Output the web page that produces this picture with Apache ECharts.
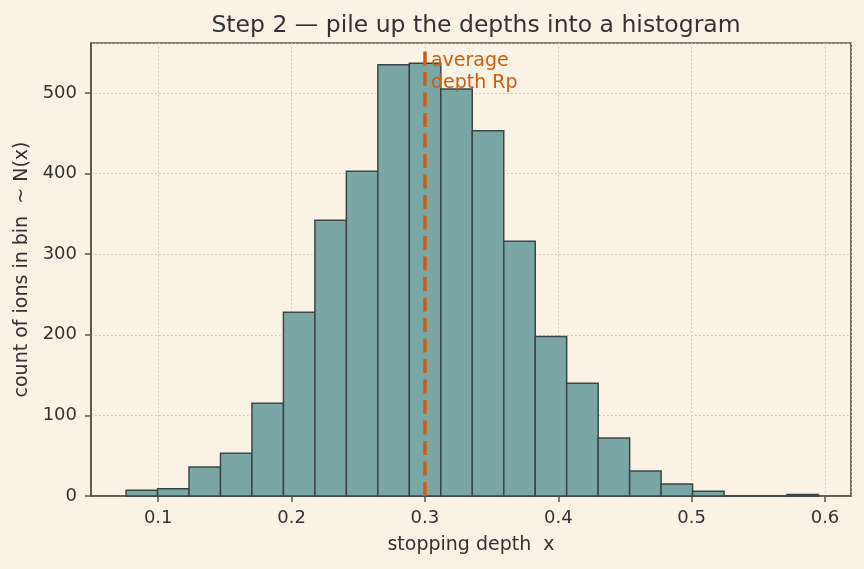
<!DOCTYPE html>
<html>
<head>
<meta charset="utf-8">
<script src="https://cdn.jsdelivr.net/npm/echarts@6/dist/echarts.min.js"></script>
<style>
	html, body { margin: 0; padding: 0; background: #faf2e4; }
	#mychart { width: 864px; height: 569px; }
</style>
</head>
<body>
<div id="mychart"></div>
<script>
// bin edges of the histogram (stopping depth x)
var binEdges = [0.0759, 0.0995, 0.1231, 0.1467, 0.1703, 0.1939, 0.2175, 0.2411, 0.2647, 0.2883, 0.3119, 0.3355,
	0.3591, 0.3827, 0.4063, 0.4299, 0.4535, 0.4771, 0.5007, 0.5243, 0.5479, 0.5715, 0.5951];
// count of ions in each bin
var binCounts = [7, 9, 36, 53, 115, 228, 342, 403, 535, 537, 505, 453, 316, 198, 140, 72, 31, 15, 6, 0, 0, 2];
var avgDepth = 0.3;
var avgLineTop = 555;

var bars = [];
for(var i = 0; i < binCounts.length; i++) {
	bars.push([binEdges[i], binEdges[i + 1], binCounts[i]]);
}

var font = 'DejaVu Sans';
var txt = '#333333';
var spine = '#5e5446';
var orange = '#cc5e10';
var gridLine = { show: true, lineStyle: { color: '#c9c1b2', type: [1.5, 2.5], width: 1 } };

var myChart = echarts.init(document.getElementById('mychart'));
var option = {
	backgroundColor: '#faf2e4',
	animation: false,
	textStyle: { fontFamily: font },
	title: {
		text: 'Step 2 \u2014 pile up the depths into a histogram',
		left: 471,
		textAlign: 'center',
		top: 9,
		textStyle: { fontSize: 23.5, fontWeight: 'normal', color: txt, fontFamily: font }
	},
	grid: {
		left: 91,
		right: 13,
		top: 43,
		bottom: 73,
		show: true,
		borderColor: spine,
		borderWidth: 1.7
	},
	xAxis: {
		type: 'value',
		min: 0.0496,
		max: 0.6195,
		minInterval: 0.1,
		maxInterval: 0.1,
		name: 'stopping depth  x',
		nameLocation: 'middle',
		nameGap: 40,
		nameTextStyle: { fontSize: 19, color: txt, fontFamily: font },
		axisLine: { show: true, lineStyle: { color: spine, width: 1.7 } },
		axisTick: { show: true, length: 6, lineStyle: { color: spine, width: 1.5 } },
		axisLabel: { fontSize: 18, color: txt, fontFamily: font, margin: 13, showMinLabel: false, showMaxLabel: false,
			formatter: function(v) { return (Math.round(v * 10) / 10).toString(); } },
		splitLine: gridLine
	},
	yAxis: {
		type: 'value',
		min: 0,
		max: 562,
		interval: 100,
		name: 'count of ions in bin  ~ N(x)',
		nameLocation: 'middle',
		nameGap: 59,
		nameTextStyle: { fontSize: 19, color: txt, fontFamily: font },
		axisLine: { show: true, lineStyle: { color: spine, width: 1.7 } },
		axisTick: { show: true, length: 6, lineStyle: { color: spine, width: 1.5 } },
		axisLabel: { fontSize: 18, color: txt, fontFamily: font, margin: 14, showMaxLabel: false },
		splitLine: gridLine
	},
	series: [{
		type: 'custom',
		data: bars,
		encode: { x: [0, 1], y: 2 },
		renderItem: function(params, api) {
			var p0 = api.coord([api.value(0), api.value(2)]);
			var p1 = api.coord([api.value(1), 0]);
			return {
				type: 'rect',
				shape: { x: p0[0], y: p0[1], width: p1[0] - p0[0], height: p1[1] - p0[1] },
				style: { fill: '#7ba6a6', stroke: '#3a4646', lineWidth: 1.5 }
			};
		},
		markLine: {
			silent: true,
			symbol: 'none',
			label: { show: false },
			lineStyle: { color: orange, width: 3.5, type: [14, 6.5] },
			data: [[{ coord: [avgDepth, 0] }, { coord: [avgDepth, avgLineTop] }]]
		},
		markPoint: {
			silent: true,
			symbol: 'circle',
			symbolSize: 0,
			data: [{ coord: [avgDepth, 526] }],
			label: {
				show: true,
				position: 'right',
				distance: 6,
				formatter: 'average\ndepth Rp',
				color: orange,
				fontFamily: font,
				fontSize: 19,
				lineHeight: 22,
				align: 'left'
			}
		}
	}]
};
myChart.setOption(option);
</script>
</body>
</html>
